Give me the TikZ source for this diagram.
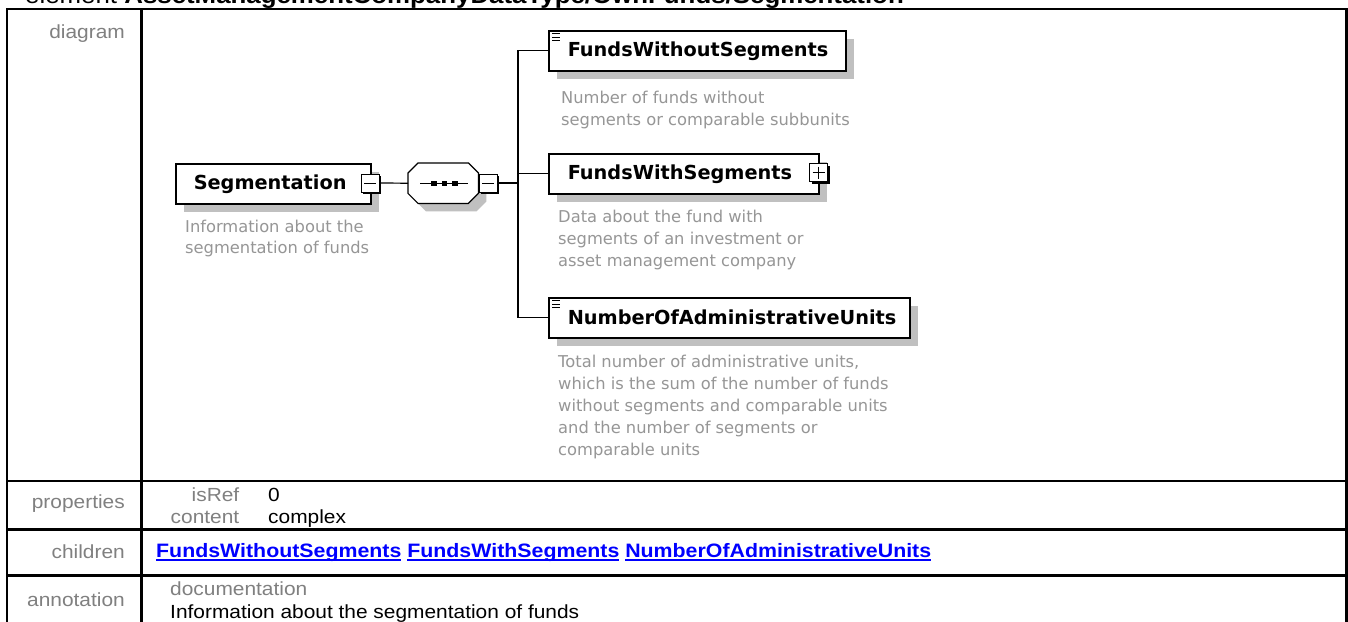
\documentclass[tikz,border=0pt]{standalone}
\usepackage{fontspec}
\setmainfont{Liberation Sans}
\newfontfamily\tbl[FakeStretch=1.1]{Liberation Sans}
\newfontfamily\dv{DejaVu Sans}
\usetikzlibrary{calc}
\definecolor{lblgray}{RGB}{128,128,128}
\definecolor{descgray}{RGB}{150,150,150}
\definecolor{shadowgray}{RGB}{192,192,192}
\definecolor{linkblue}{RGB}{0,0,255}
\newcommand\myul[1]{\setbox0\hbox{#1}\rlap{\rule[-3.5pt]{\wd0}{1.6pt}}\box0\relax}
\begin{document}
\begin{tikzpicture}[x=1pt,y=-1pt,
  elembox/.style={draw=black, line width=1.5pt, fill=white, inner sep=0pt,
    minimum height=40pt, anchor=north west,
    font=\dv\bfseries\fontsize{19.3}{23}\selectfont,
    preaction={fill=shadowgray, draw=none, transform canvas={shift={(8pt,-8pt)}}}},
  expbox/.style={draw=black, line width=1pt, fill=white, inner sep=0pt,
    minimum width=18pt, minimum height=18pt,
    preaction={fill=black, draw=none, transform canvas={shift={(2pt,-2pt)}}}},
  desc/.style={anchor=base west, inner sep=0pt, align=left, text=descgray,
    font=\dv\fontsize{16.3}{22}\selectfont},
  conn/.style={draw=black, line width=1.2pt},
  tline/.style={draw=black, line width=2.5pt},
  lbl/.style={anchor=base east, inner sep=0pt, text=lblgray, font=\tbl\fontsize{19}{22}\selectfont},
  val/.style={anchor=base west, inner sep=0pt, text=black, font=\tbl\fontsize{19}{22}\selectfont}
]
\useasboundingbox (0,0) rectangle (1348,621);
\clip (0,0) rectangle (1348,621);
\fill[white] (0,0) rectangle (1348,621);

% title
\node[anchor=base west, inner sep=0pt, font=\tbl\fontsize{23.5}{26}\selectfont] (title) at (25,4)
  {element \textbf{AssetManagementCompanyDataType/OwnFunds/Segmentation}};

% table
\draw[tline] (7,9) rectangle (1346.5,650);
\draw[tline] (7,481) -- (1346.5,481);
\draw[tline] (7,529.5) -- (1346.5,529.5);
\draw[tline] (7,575.5) -- (1346.5,575.5);
\draw[tline] (141.5,9) -- (141.5,650);

\node[lbl] (ldiag) at (125,38.5) {diagram};
\node[lbl] (lprop) at (125,508) {properties};
\node[lbl] (lchild) at (125,558) {children};
\node[lbl] (lann) at (125,606) {annotation};

\node[lbl] (kisref) at (239.5,501) {isRef};
\node[lbl] (kcontent) at (239.5,523) {content};
\node[val] (visref) at (268,501) {0};
\node[val] (vcontent) at (268,523) {complex};

\node[val, text=linkblue, font=\tbl\bfseries\fontsize{19.4}{22}\selectfont] (links) at (156,557.5)
  {\myul{FundsWithoutSegments} \myul{FundsWithSegments} \myul{NumberOfAdministrativeUnits}};

\node[val, text=lblgray] (kdoc) at (170,595) {documentation};
\node[val] (vdoc) at (170,618.7) {Information about the segmentation of funds};

% diagram: root element
\node[elembox, minimum width=195pt] (seg) at (175,163)
  {\makebox[195pt][l]{\hspace{18pt}Segmentation}};
\node[expbox] (segx) at (370,183) {};
\draw[line width=1pt] ($(segx.center)+(-6,0)$) -- ($(segx.center)+(6,0)$);
\node[desc, font=\dv\fontsize{16.3}{21}\selectfont] (segdesc) at (185,253)
  {Information about the\\segmentation of funds};

% sequence compositor
\node[inner sep=0pt, minimum width=70pt, minimum height=40pt, anchor=north west] (seq) at (408,163) {};
\fill[shadowgray] ($(seq.north west)+(18,8)$) -- ($(seq.north east)+(-2,8)$) -- ($(seq.north east)+(8,18)$)
  -- ($(seq.south east)+(8,-2)$) -- ($(seq.south east)+(-2,8)$) -- ($(seq.south west)+(18,8)$)
  -- ($(seq.south west)+(8,-2)$) -- ($(seq.north west)+(8,18)$) -- cycle;
\draw[line width=1.2pt, fill=white] ($(seq.north west)+(10,0)$) -- ($(seq.north east)+(-10,0)$) -- ($(seq.north east)+(0,10)$)
  -- ($(seq.south east)+(0,-10)$) -- ($(seq.south east)+(-10,0)$) -- ($(seq.south west)+(10,0)$)
  -- ($(seq.south west)+(0,-10)$) -- ($(seq.north west)+(0,10)$) -- cycle;
\draw[line width=1.2pt] ($(seq.west)+(12,0)$) -- ($(seq.east)+(-10,0)$);
\foreach \dx in {26,36.5,47}
  \fill ($(seq.west)+(\dx,0)+(-2.7,-2.7)$) rectangle ++(5.4,5.4);
\node[expbox] (seqx) at (488,183) {};
\draw[line width=1pt] ($(seqx.center)+(-6,0)$) -- ($(seqx.center)+(6,0)$);

% children
\node[elembox, minimum width=297pt] (fwos) at (548,30)
  {\makebox[297pt][l]{\hspace{19pt}FundsWithoutSegments}};
\foreach \d in {3.5,7,10.5}
  \draw[line width=1pt] ($(fwos.north west)+(4,\d)$) -- ++(8,0);
\node[desc] (fwosdesc) at (561,125)
  {Number of funds without\\segments or comparable subbunits};

\node[elembox, minimum width=270pt] (fws) at (548,153)
  {\makebox[270pt][l]{\hspace{19pt}FundsWithSegments}};
\node[expbox] (fwsx) at (818.5,172.5) {};
\draw[line width=1pt] ($(fwsx.center)+(-6,0)$) -- ($(fwsx.center)+(6,0)$);
\draw[line width=1pt] ($(fwsx.center)+(0,-6)$) -- ($(fwsx.center)+(0,6)$);
\node[desc] (fwsdesc) at (558,266)
  {Data about the fund with\\segments of an investment or\\asset management company};

\node[elembox, minimum width=361pt] (noau) at (548,297)
  {\makebox[361pt][l]{\hspace{19pt}NumberOfAdministrativeUnits}};
\foreach \d in {3.5,7,10.5}
  \draw[line width=1pt] ($(noau.north west)+(4,\d)$) -- ++(8,0);
\node[desc] (noaudesc) at (558,455)
  {Total number of administrative units,\\which is the sum of the number of funds\\without segments and comparable units\\and the number of segments or\\comparable units};

% connectors
\coordinate (bus) at (518,183);
\draw[conn] (segx.east) -- (seq.west);
\draw[conn] (seqx.east) -- (bus);
\draw[conn] (fwos.west) -| (bus) |- (noau.west);
\draw[conn] (bus |- fws.west) -- (fws.west);
\end{tikzpicture}
\end{document}
